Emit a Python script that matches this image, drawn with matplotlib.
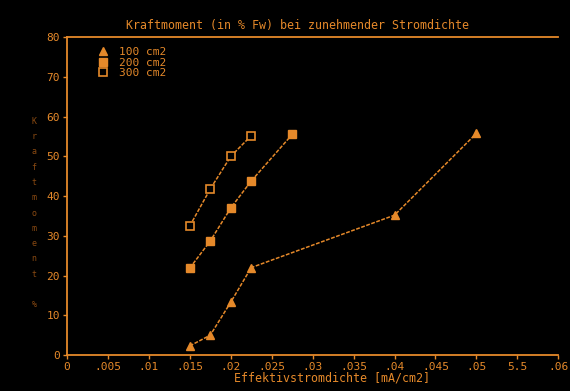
import numpy as np
import matplotlib.pyplot as plt

# ── data ──────────────────────────────────────────────────────────────────────
x_100 = [0.015, 0.0175, 0.020, 0.0225, 0.040, 0.050]
y_100 = [2.3, 5.0, 13.3, 22.0, 35.2, 55.8]

x_200 = [0.015, 0.0175, 0.020, 0.0225, 0.0275]
y_200 = [21.9, 28.7, 37.0, 43.8, 55.5]

x_300 = [0.015, 0.0175, 0.020, 0.0225]
y_300 = [32.5, 41.8, 50.0, 55.2]

x_ticks = [0, .005, .01, .015, .02, .025, .03, .035, .04, .045, .05, .055, .06]
x_ticklabels = ["0", ".005", ".01", ".015", ".02", ".025", ".03", ".035",
                ".04", ".045", ".05", "5.5", ".06"]
y_ticks = list(range(0, 81, 10))

ORANGE = "#e5892a"
DIM = "#8a4a12"
FONT = "DejaVu Sans Mono"

fig = plt.figure(figsize=(5.7, 3.91), dpi=100, facecolor="black")
ax = fig.add_axes([0.1175, 0.092, 0.862, 0.813], facecolor="black")

ls = (0, (2.5, 1))
ax.plot(x_100, y_100, ls=ls, lw=1.1, color=ORANGE, marker="^", ms=6,
        mfc=ORANGE, mec=ORANGE, label="100 cm2")
ax.plot(x_200, y_200, ls=ls, lw=1.1, color=ORANGE, marker="s", ms=5.5,
        mfc=ORANGE, mec=ORANGE, label="200 cm2")
ax.plot(x_300, y_300, ls=ls, lw=1.1, color=ORANGE, marker="s", ms=5.5,
        mfc="black", mec=ORANGE, mew=1.2, label="300 cm2")

ax.set_xlim(0, 0.06)
ax.set_ylim(0, 80)
ax.set_xticks(x_ticks)
ax.set_xticklabels(x_ticklabels)
ax.set_yticks(y_ticks)
ax.tick_params(colors=ORANGE, labelcolor=ORANGE, length=3, width=1,
               labelsize=8, pad=2)
for lab in ax.get_xticklabels() + ax.get_yticklabels():
    lab.set_fontfamily(FONT)

for side in ["left", "bottom", "top"]:
    ax.spines[side].set_color(ORANGE)
    ax.spines[side].set_linewidth(1.3)
ax.spines["right"].set_visible(False)

ax.set_title("Kraftmoment (in % Fw) bei zunehmender Stromdichte",
             color=ORANGE, fontsize=8.4, fontfamily=FONT, pad=6, x=0.47)
ax.set_xlabel("Effektivstromdichte [mA/cm2]", color=ORANGE, fontsize=8.4,
              fontfamily=FONT, labelpad=0, x=0.54)

# stacked (unrotated) y label, as on the terminal
fig.text(0.06, 0.455, "\n".join("Kraftmoment") + "\n\n%", color=DIM,
         fontsize=6, fontfamily=FONT, ha="center", va="center",
         linespacing=1.9)

leg = ax.legend(loc="upper left", bbox_to_anchor=(0.04, 1.0), frameon=False,
                handlelength=1.2, handletextpad=0.8, labelspacing=0.05,
                prop={"family": FONT, "size": 8})
for txt in leg.get_texts():
    txt.set_color(ORANGE)
for h in leg.legend_handles:
    h.set_linestyle("none")

fig.savefig("out.png", dpi=100, facecolor="black")
